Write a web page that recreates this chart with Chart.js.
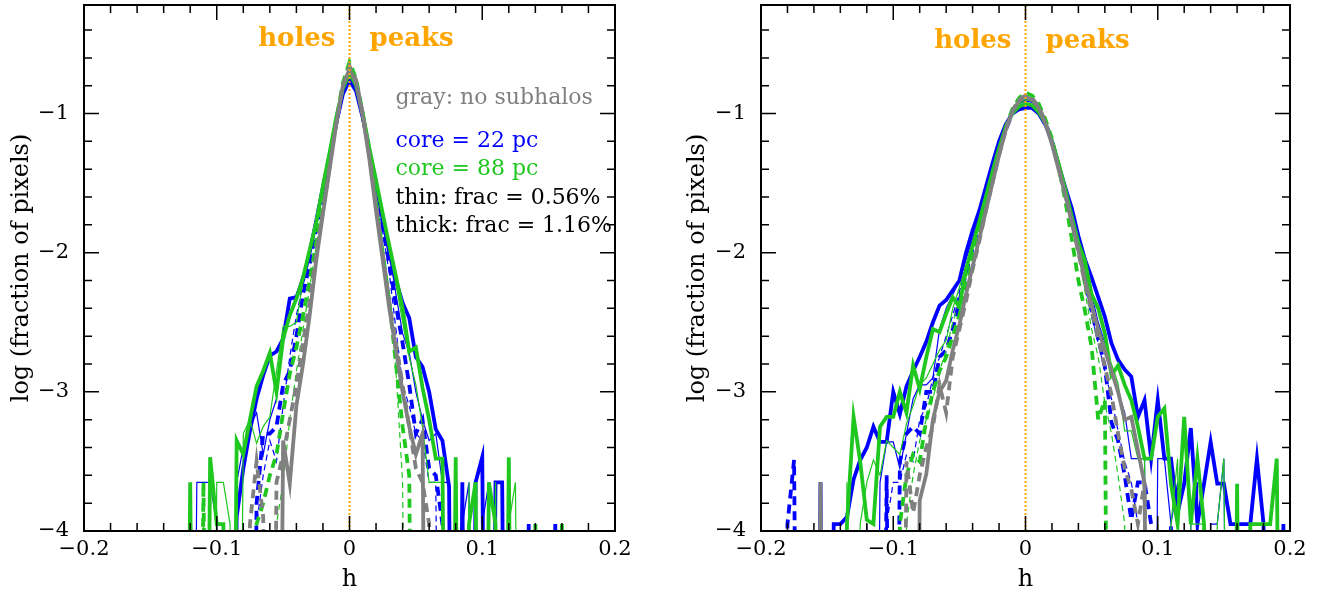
<!DOCTYPE html>
<html><head><meta charset="utf-8">
<script src="https://cdn.jsdelivr.net/npm/chart.js@4.4.0/dist/chart.umd.min.js"></script>
<style>
html,body{margin:0;padding:0;background:#fff;}
#wrap{position:relative;width:1329px;height:598px;overflow:hidden;background:#fff;}
.panel{position:absolute;top:0;width:640px;height:598px;}
</style></head><body>
<div id="wrap">
<div class="panel" style="left:0"><canvas id="cL" width="640" height="598"></canvas></div>
<div class="panel" style="left:676px"><canvas id="cR" width="640" height="598"></canvas></div>
</div>
<script>
// empty histogram bin: log(0) -> drawn below the axis
const _ = -9;

// ---------- bin centres (h) ----------
const hLeft = [-0.13,-0.125,-0.12,-0.115,-0.11,-0.105,-0.1,-0.095,-0.09,-0.085,
 -0.08,-0.075,-0.07,-0.065,-0.06,-0.055,-0.05,-0.045,-0.04,-0.035,
 -0.03,-0.025,-0.02,-0.015,-0.01,-0.005,0,0.005,0.01,0.015,
 0.02,0.025,0.03,0.035,0.04,0.045,0.05,0.055,0.06,0.065,
 0.07,0.075,0.08,0.085,0.09,0.095,0.1,0.105,0.11,0.115,
 0.12,0.125,0.13,0.135,0.14,0.145,0.15,0.155,0.16,0.165,0.17];

const hRight = [-0.19,-0.185,-0.18,-0.175,-0.17,-0.165,-0.16,-0.155,-0.15,-0.145,
 -0.14,-0.135,-0.13,-0.125,-0.12,-0.115,-0.11,-0.105,-0.1,-0.095,
 -0.09,-0.085,-0.08,-0.075,-0.07,-0.065,-0.06,-0.055,-0.05,-0.045,
 -0.04,-0.035,-0.03,-0.025,-0.02,-0.015,-0.01,-0.005,0,0.005,
 0.01,0.015,0.02,0.025,0.03,0.035,0.04,0.045,0.05,0.055,
 0.06,0.065,0.07,0.075,0.08,0.085,0.09,0.095,0.1,0.105,
 0.11,0.115,0.12,0.125,0.13,0.135,0.14,0.145,0.15,0.155,
 0.16,0.165,0.17,0.175,0.18,0.185,0.19,0.195,0.2];

// ---------- left panel: log(fraction of pixels) ----------
const L_blueThick = [_,_,-3.95,_,_,_,_,_,_,-3.9,
 -3.55,-3.28,-3.05,-2.88,-2.74,-2.71,-2.62,-2.33,-2.32,-2.2,
 -2.0,-1.77,-1.53,-1.30,-1.07,-0.86,-0.76,-0.84,-1.03,-1.27,
 -1.50,-1.76,-2.0,-2.2,-2.36,-2.47,-2.75,-2.82,-3.0,-3.27,
 -3.35,-3.68,_,-3.65,_,-3.65,-3.47,_,-3.65,-3.65,
 _,_,_,-3.95,_,_,_,-3.95,_,_,_];
const L_blueThin = [_,_,_,-3.65,-3.65,-3.65,-3.95,_,_,-3.65,
 -3.4,-3.25,-3.15,-3.45,-3.2,-3.05,-2.62,-2.45,-2.3,-2.15,
 -1.98,-1.76,-1.52,-1.28,-1.04,-0.82,-0.72,-0.80,-1.0,-1.25,
 -1.5,-1.76,-2.0,-2.3,-2.58,-2.72,-3.0,-3.2,-3.35,-3.3,
 -3.65,-3.65,_,-3.95,-3.65,_,-3.95,-3.65,_,_,
 _,_,_,_,_,_,_,_,_,_,_];
const L_blueThickDash = [_,_,_,_,_,_,_,_,_,_,
 _,_,-3.8,-3.3,-3.3,-3.25,-2.95,-2.85,-2.6,-2.3,
 -2.08,-1.83,-1.58,-1.32,-1.07,-0.84,-0.72,-0.80,-1.02,-1.27,
 -1.55,-1.82,-2.08,-2.38,-2.65,-2.95,-3.3,-3.2,-3.55,-3.6,
 -3.95,_,_,_,_,_,_,_,_,_,
 _,_,_,_,_,_,_,_,_,_,_];
const L_blueThinDash = [_,_,_,_,_,_,_,_,_,_,
 _,_,-3.95,-3.6,-3.35,-3.5,-3.1,-2.75,-2.45,-2.22,
 -2.02,-1.8,-1.56,-1.3,-1.05,-0.82,-0.70,-0.79,-1.0,-1.28,
 -1.55,-1.85,-2.15,-2.55,-2.95,-3.1,-3.3,-3.35,-3.65,-3.65,
 _,_,_,_,_,_,_,_,_,_,
 _,_,_,_,_,_,_,_,_,_,_];
const L_greenThick = [_,_,-3.65,_,_,-3.47,-3.95,-3.95,_,-3.35,
 -3.45,-3.2,-2.96,-2.85,-2.72,-3.0,-2.62,-2.45,-2.33,-2.18,
 -1.98,-1.78,-1.52,-1.28,-1.03,-0.82,-0.71,-0.80,-1.0,-1.25,
 -1.48,-1.72,-1.95,-2.17,-2.40,-2.71,-2.68,-2.97,-3.2,-3.48,
 -3.48,_,-3.47,_,-3.95,-3.65,_,-3.65,-3.95,_,
 -3.47,_,_,_,-3.95,_,_,_,-3.95,_,_];
const L_greenThin = [_,_,_,_,-3.95,_,-3.65,-3.65,-3.95,_,
 -3.3,-3.2,-3.37,-3.25,-3.18,-2.85,-2.53,-2.53,-2.5,-2.2,
 -2.0,-1.78,-1.53,-1.28,-1.04,-0.82,-0.70,-0.79,-1.0,-1.25,
 -1.5,-1.75,-1.98,-2.22,-2.5,-2.75,-2.95,-3.25,-3.65,-3.65,
 -3.65,_,-3.95,_,-3.65,_,-3.95,_,-3.65,_,
 -3.95,-3.65,_,_,_,_,_,_,_,_,_];
const L_greenThickDash = [_,_,_,_,-3.65,_,_,_,_,_,
 _,_,-3.95,-3.8,-3.6,-3.45,-3.15,-2.87,-2.68,-2.45,
 -2.2,-1.92,-1.63,-1.33,-1.05,-0.78,-0.63,-0.75,-1.0,-1.3,
 -1.65,-2.0,-2.35,-2.8,-3.25,-3.6,_,_,_,_,
 _,_,_,_,_,_,_,_,_,_,
 _,_,_,_,_,_,_,_,_,_,_];
const L_greenThinDash = [_,_,_,_,_,_,_,_,_,_,
 _,_,_,_,_,-3.95,-3.65,-3.2,-2.85,-2.55,
 -2.25,-1.95,-1.65,-1.35,-1.06,-0.8,-0.66,-0.77,-1.02,-1.32,
 -1.65,-1.98,-2.3,-2.85,-3.65,_,_,_,_,_,
 _,_,_,_,_,_,_,_,_,_,
 _,_,_,_,_,_,_,_,_,_,_];
const L_grayThick = [_,_,_,_,_,_,_,_,_,_,
 _,_,_,_,_,_,-3.35,-3.66,-3.1,-2.8,
 -2.45,-2.05,-1.72,-1.4,-1.08,-0.8,-0.68,-0.78,-1.02,-1.33,
 -1.7,-2.05,-2.4,-2.7,-3.0,-3.25,-3.45,-3.3,_,_,
 _,_,_,_,_,_,_,_,_,_,
 _,_,_,_,_,_,_,_,_,_,_];
const L_grayThickDash = [_,_,_,_,_,_,_,_,_,_,
 _,-3.95,-3.5,-3.9,_,-3.65,-3.45,-3.2,-2.95,-2.65,
 -2.35,-2.0,-1.7,-1.38,-1.07,-0.8,-0.66,-0.76,-1.0,-1.3,
 -1.65,-2.0,-2.35,-2.65,-2.95,-3.25,-3.55,-3.65,-3.95,_,
 _,_,_,_,_,_,_,_,_,_,
 _,_,_,_,_,_,_,_,_,_,_];

// ---------- right panel ----------
const R_blueThick = [_,_,_,_,_,_,_,-3.65,_,-3.95,
 -3.95,-3.9,-3.63,-3.49,-3.4,-3.25,-3.36,-3.36,-3.0,-3.16,
 -2.96,-2.85,-2.75,-2.64,-2.5,-2.38,-2.34,-2.27,-2.2,-2.0,
 -1.84,-1.7,-1.53,-1.36,-1.2,-1.08,-1.0,-0.97,-0.96,-0.96,
 -1.0,-1.08,-1.2,-1.37,-1.53,-1.68,-1.88,-2.05,-2.18,-2.32,
 -2.46,-2.65,-2.77,-2.84,-2.89,-3.18,-3.06,-3.48,-3.06,-3.48,
 -3.48,-3.87,-3.66,-3.26,-3.95,-3.66,-3.36,-3.66,-3.66,-3.95,
 -3.95,-3.95,-3.95,-3.48,-3.95,_,_,-3.95,_];
const R_blueThin = [_,_,_,_,_,_,_,_,_,_,
 _,_,_,_,-3.95,_,-3.65,-3.36,-3.36,-3.55,
 -3.3,-3.05,-2.95,-2.95,-2.9,-2.55,-2.4,-2.3,-2.2,-2.05,
 -1.9,-1.74,-1.57,-1.4,-1.24,-1.1,-0.99,-0.93,-0.91,-0.92,
 -0.97,-1.06,-1.2,-1.36,-1.54,-1.73,-1.93,-2.1,-2.3,-2.5,
 -2.65,-2.85,-3.0,-3.15,-3.48,-3.48,-3.48,_,-3.48,-3.48,
 -3.95,-3.65,_,-3.95,-3.65,_,-3.95,-3.95,-3.48,_,
 _,_,_,_,_,_,_,_,_];
const R_blueThickDash = [_,_,-3.95,-3.49,_,_,_,_,_,_,
 _,_,_,_,_,_,_,-3.6,_,-3.5,
 -3.3,-3.25,-3.3,-3.0,-3.0,-2.75,-2.7,-2.55,-2.35,-2.15,
 -1.97,-1.8,-1.62,-1.44,-1.27,-1.12,-1.0,-0.92,-0.89,-0.9,
 -0.96,-1.06,-1.2,-1.37,-1.56,-1.76,-1.97,-2.2,-2.42,-2.62,
 -2.82,-3.22,-3.35,-3.6,-3.92,-3.65,-3.65,-3.95,_,_,
 -3.95,_,_,_,_,_,_,_,_,_,
 _,_,_,_,_,_,_,_,_];
const R_blueThinDash = [_,_,_,_,_,_,_,_,_,_,
 _,_,_,_,_,_,_,-3.95,-3.65,-3.65,
 -3.45,-3.5,-3.2,-3.1,-2.9,-2.75,-2.6,-2.45,-2.28,-2.1,
 -1.93,-1.76,-1.58,-1.42,-1.26,-1.11,-0.99,-0.92,-0.9,-0.91,
 -0.97,-1.08,-1.22,-1.4,-1.6,-1.8,-2.0,-2.22,-2.45,-2.65,
 -2.85,-3.05,-3.28,-3.5,-3.65,-3.95,_,_,_,_,
 _,_,_,_,_,_,_,_,_,_,
 _,_,_,_,_,_,_,_,_];
const R_greenThick = [_,_,_,_,_,_,_,_,_,_,
 _,-3.95,-3.18,-3.5,-3.92,-3.95,-3.25,-3.18,-3.18,-3.0,
 -3.15,-2.81,-2.98,-2.75,-2.55,-2.57,-2.44,-2.32,-2.39,-2.12,
 -1.95,-1.78,-1.6,-1.42,-1.25,-1.1,-1.0,-0.95,-0.93,-0.94,
 -0.99,-1.07,-1.2,-1.36,-1.54,-1.74,-1.93,-2.06,-2.3,-2.4,
 -2.58,-2.88,-2.81,-2.95,-3.06,-3.25,-3.48,-3.48,-3.18,-3.12,
 -3.66,-3.95,-3.18,-3.95,-3.48,-3.95,_,_,_,_,
 -3.66,_,-3.95,-3.95,-3.95,-3.95,-3.48,_,_];
const R_greenThin = [_,_,_,_,_,_,_,_,_,_,
 _,-3.65,_,-3.95,-3.65,-3.49,-3.6,-3.35,-3.4,-3.45,
 -3.23,-3.1,-2.95,-2.9,-2.8,-2.7,-2.63,-2.4,-2.25,-2.1,
 -1.95,-1.78,-1.6,-1.42,-1.25,-1.1,-0.99,-0.93,-0.9,-0.91,
 -0.96,-1.05,-1.18,-1.35,-1.53,-1.72,-1.92,-2.12,-2.35,-2.55,
 -2.7,-2.8,-2.94,-3.28,-3.28,-3.48,-3.48,_,-3.95,_,
 -3.95,-3.48,_,-3.95,-3.95,-3.95,_,-3.95,-3.48,_,
 _,_,_,_,_,_,_,_,_];
const R_greenThickDash = [_,_,_,_,_,_,_,_,_,_,
 _,_,_,_,_,_,_,_,_,-3.95,
 -3.6,-3.45,-3.5,-3.2,-3.0,-2.85,-2.75,-2.6,-2.45,-2.25,
 -2.05,-1.85,-1.65,-1.46,-1.27,-1.1,-0.97,-0.89,-0.85,-0.87,
 -0.93,-1.04,-1.18,-1.38,-1.62,-1.9,-2.2,-2.42,-2.68,-3.2,
 -3.06,_,_,_,_,_,_,_,_,_,
 _,_,_,_,_,_,_,_,_,_,
 _,_,_,_,_,_,_,_,_];
const R_greenThinDash = [_,_,_,_,_,_,_,_,_,_,
 _,_,_,_,_,_,_,_,_,_,
 -3.95,-3.6,-3.35,-3.2,-3.05,-2.85,-2.7,-2.5,-2.35,-2.17,
 -1.98,-1.8,-1.62,-1.44,-1.27,-1.11,-0.99,-0.91,-0.88,-0.9,
 -0.95,-1.06,-1.2,-1.38,-1.58,-1.8,-2.02,-2.28,-2.55,-2.75,
 -3.08,-3.3,-3.6,-3.95,_,_,_,_,_,_,
 _,_,_,_,_,_,_,_,_,_,
 _,_,_,_,_,_,_,_,_];
const R_grayThick = [_,_,_,_,_,_,_,-3.65,_,_,
 _,_,_,_,_,_,_,_,_,_,
 _,_,-3.78,-3.59,-3.2,-3.0,-2.92,-2.7,-2.52,-2.3,
 -2.1,-1.9,-1.7,-1.5,-1.3,-1.12,-0.99,-0.91,-0.88,-0.9,
 -0.96,-1.07,-1.22,-1.4,-1.58,-1.78,-1.98,-2.2,-2.38,-2.55,
 -2.7,-2.85,-3.0,-3.2,-3.18,-3.42,-3.66,_,_,_,
 _,_,_,_,_,_,_,_,_,_,
 _,_,_,_,_,_,_,_,_];
const R_grayThickDash = [_,_,_,_,_,_,_,_,_,_,
 _,_,_,_,_,_,_,_,_,_,
 -3.5,-3.87,-3.6,-3.4,-3.25,-2.95,-3.15,-2.75,-2.55,-2.35,
 -2.12,-1.92,-1.7,-1.5,-1.3,-1.12,-0.98,-0.9,-0.87,-0.89,
 -0.95,-1.06,-1.21,-1.39,-1.58,-1.78,-2.0,-2.22,-2.42,-2.62,
 -2.82,-3.02,-3.3,-3.55,-3.7,-3.95,-3.65,_,_,_,
 _,_,_,_,_,_,_,_,_,_,
 _,_,_,_,_,_,_,_,_];

// ---------- axis / text ----------
const xTicks = [-0.2, -0.1, 0, 0.1, 0.2];
const yTicks = [-4, -3, -2, -1];
const xTitle = 'h';
const yTitle = 'log (fraction of pixels)';
const notesLeft = [
  {text:'gray: no subhalos',   color:'#808080'},
  {text:'core = 22 pc',        color:'#0000ff'},
  {text:'core = 88 pc',        color:'#1fc71f'},
  {text:'thin: frac = 0.56%',  color:'#000000'},
  {text:'thick: frac = 1.16%', color:'#000000'}
];

const COL = {blue:'#0000ff', green:'#1fc71f', gray:'#808080'};
const FONT = '"DejaVu Serif", serif';

function fmt(v){
  const r = Math.round(v*10)/10;
  if (r === 0) return '0';
  return (r < 0 ? '\u2212' : '') + Math.abs(r);
}

function ds(grid, vals, color, thick, dash){
  return {
    data: grid.map((h,i)=>({x:h, y:vals[i]})),
    borderColor: color,
    borderWidth: thick ? 3.8 : 1.2,
    borderDash: dash ? (thick ? [9,6] : [6,4]) : [],
    pointRadius: 0, tension: 0, fill: false, clip: 0
  };
}

const frame = {
  id: 'frame',
  afterDatasetsDraw(chart, args, o){
    const {ctx, chartArea:a, scales:{x, y}} = chart;
    ctx.save();
    // orange reference line at h = 0
    const x0 = x.getPixelForValue(0);
    ctx.strokeStyle = '#ffa500'; ctx.lineWidth = 2; ctx.setLineDash([2,2]);
    ctx.beginPath(); ctx.moveTo(x0, a.bottom); ctx.lineTo(x0, a.top); ctx.stroke();
    ctx.setLineDash([]);
    // box
    ctx.strokeStyle = '#000'; ctx.lineWidth = 2;
    ctx.strokeRect(a.left, a.top, a.right - a.left, a.bottom - a.top);
    // inward ticks on all four sides
    ctx.lineWidth = 1.5; ctx.beginPath();
    for (let k = -10; k <= 10; k++){
      const px = x.getPixelForValue(k*0.02), L = (k % 5 === 0) ? 15 : 8;
      ctx.moveTo(px, a.bottom); ctx.lineTo(px, a.bottom - L);
      ctx.moveTo(px, a.top); ctx.lineTo(px, a.top + L);
    }
    for (let k = -20; k <= -1; k++){
      const v = k*0.2; if (v > y.max) continue;
      const py = y.getPixelForValue(v), L = (k % 5 === 0) ? 15 : 8;
      ctx.moveTo(a.left, py); ctx.lineTo(a.left + L, py);
      ctx.moveTo(a.right, py); ctx.lineTo(a.right - L, py);
    }
    ctx.stroke();
    // holes / peaks
    ctx.fillStyle = '#ffa500'; ctx.font = 'bold 26px ' + FONT; ctx.textBaseline = 'alphabetic';
    ctx.textAlign = 'right'; ctx.fillText('holes', x0 - 14, o.hpBase);
    ctx.textAlign = 'left'; ctx.fillText('peaks', x0 + 20, o.hpBase);
    // notes
    if (o.notes){
      ctx.font = '22px ' + FONT; ctx.textAlign = 'left';
      const base = [104, 147, 175, 204, 232];
      o.notes.forEach((n, i) => { ctx.fillStyle = n.color; ctx.fillText(n.text, x0 + 46, base[i]); });
    }
    ctx.restore();
  }
};

function noPad(s){ s.paddingTop = 0; s.paddingBottom = 0; s.paddingLeft = 0; s.paddingRight = 0; }

function makePanel(id, grid, S, padRight, yWidth, notes, hpBase){
  const list = [
    ds(grid, S.bThinD, COL.blue, false, true),
    ds(grid, S.bThin, COL.blue, false, false),
    ds(grid, S.bThickD, COL.blue, true, true),
    ds(grid, S.bThick, COL.blue, true, false),
    ds(grid, S.gThinD, COL.green, false, true),
    ds(grid, S.gThin, COL.green, false, false),
    ds(grid, S.gThickD, COL.green, true, true),
    ds(grid, S.gThick, COL.green, true, false),
    ds(grid, S.yThickD, COL.gray, true, true),
    ds(grid, S.yThick, COL.gray, true, false)
  ].reverse();  // index 0 is drawn last (on top)
  const tickFont = {family: FONT, size: 21};
  return new Chart(document.getElementById(id), {
    type: 'line',
    data: {datasets: list},
    options: {
      responsive: false, animation: false, devicePixelRatio: 1, events: [],
      layout: {padding: {left: 0, top: 5, right: padRight, bottom: 0}},
      plugins: {legend: {display: false}, tooltip: {enabled: false},
                frame: {notes: notes, hpBase: hpBase}},
      scales: {
        x: {type: 'linear', min: xTicks[0], max: xTicks[xTicks.length-1],
            afterBuildTicks(s){ s.ticks = xTicks.map(v => ({value: v})); },
            ticks: {padding: 6, color: '#000', font: tickFont, maxRotation: 0, autoSkip: false, callback: fmt},
            grid: {display: false, drawTicks: false, tickLength: 0},
            border: {display: false},
            title: {display: true, text: xTitle, color: '#000', font: {family: FONT, size: 24}, padding: {top: 0, bottom: 4}},
            afterFit(s){ s.height = 67; noPad(s); }},
        y: {type: 'linear', min: -4, max: -0.22,
            afterBuildTicks(s){ s.ticks = yTicks.map(v => ({value: v})); },
            ticks: {padding: 15, color: '#000', font: tickFont, callback: fmt},
            grid: {display: false, drawTicks: false, tickLength: 0},
            border: {display: false},
            title: {display: true, text: yTitle, color: '#000', font: {family: FONT, size: 24}, padding: {top: 7, bottom: 0}},
            afterFit(s){ s.width = yWidth; noPad(s); }}
      }
    },
    plugins: [frame]
  });
}

makePanel('cL', hLeft, {
  bThick: L_blueThick, bThin: L_blueThin, bThickD: L_blueThickDash, bThinD: L_blueThinDash,
  gThick: L_greenThick, gThin: L_greenThin, gThickD: L_greenThickDash, gThinD: L_greenThinDash,
  yThick: L_grayThick, yThickD: L_grayThickDash
}, 25, 84, notesLeft, 46);

makePanel('cR', hRight, {
  bThick: R_blueThick, bThin: R_blueThin, bThickD: R_blueThickDash, bThinD: R_blueThinDash,
  gThick: R_greenThick, gThin: R_greenThin, gThickD: R_greenThickDash, gThinD: R_greenThinDash,
  yThick: R_grayThick, yThickD: R_grayThickDash
}, 26, 85, null, 48);
</script>
</body></html>
